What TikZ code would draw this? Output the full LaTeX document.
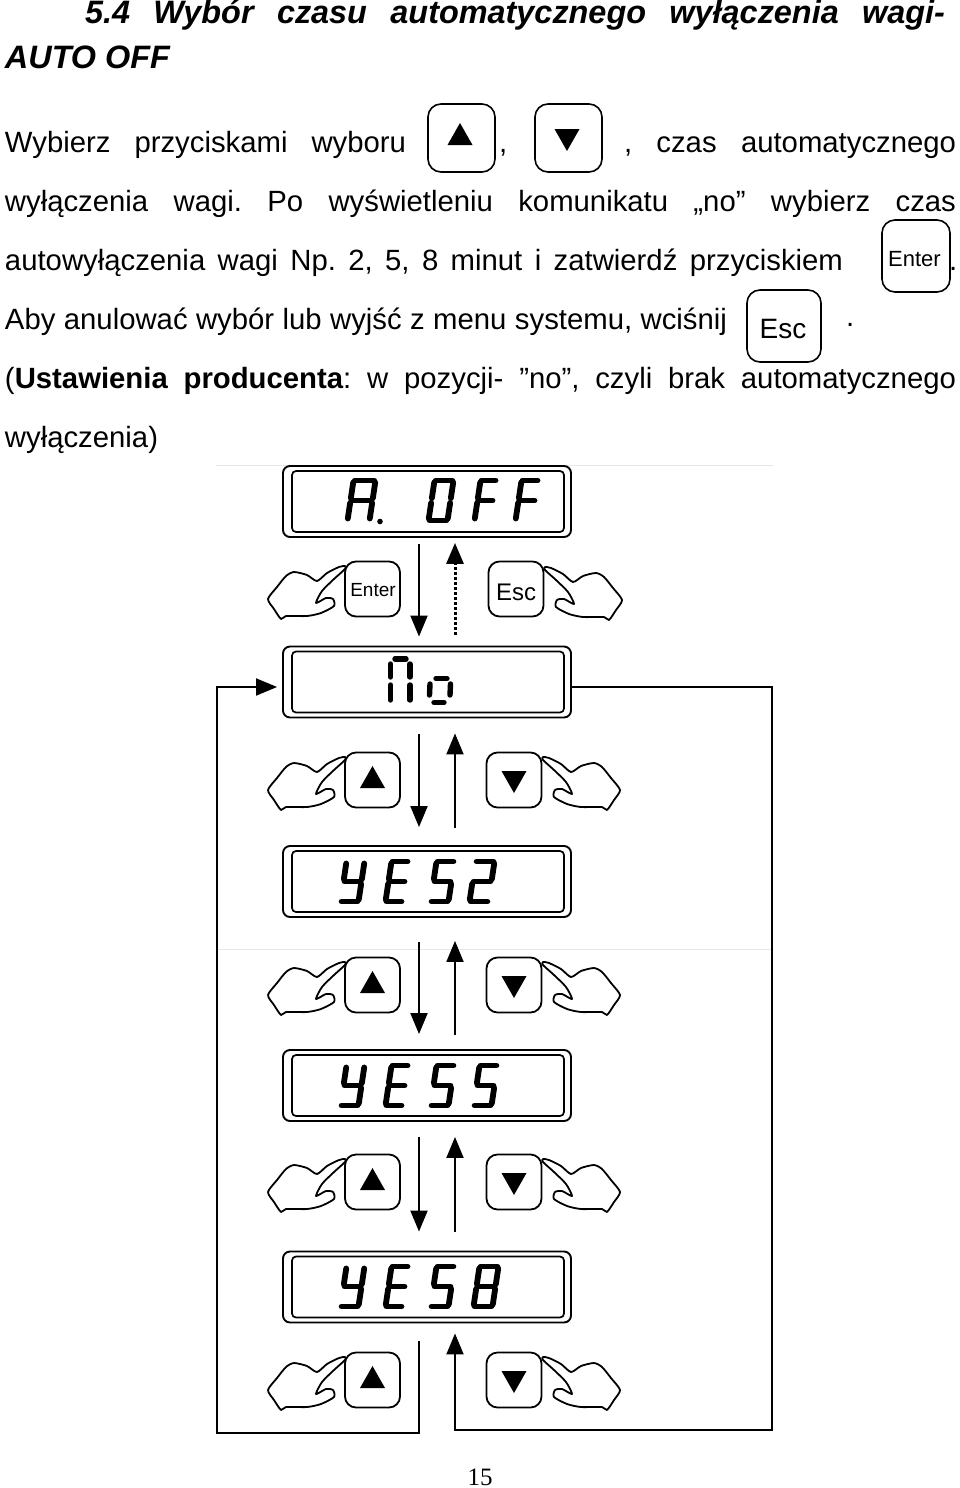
\documentclass[tikz,border=0pt]{standalone}
\usepackage{fontspec}
\setmainfont{Liberation Sans}
\newfontfamily\serifnum{Liberation Serif}
\usetikzlibrary{arrows.meta,calc}
\newcommand\segpa{\draw[segm] (.06,1)--(.94,1);}
\newcommand\segpb{\draw[segm] (1,.95)--(1,.56);}
\newcommand\segpc{\draw[segm] (1,.44)--(1,.05);}
\newcommand\segpd{\draw[segm] (.94,0)--(.06,0);}
\newcommand\segpe{\draw[segm] (0,.44)--(0,.05);}
\newcommand\segpf{\draw[segm] (0,.95)--(0,.56);}
\newcommand\segpg{\draw[segm] (.06,.5)--(.94,.5);}
% x, baseline y, width, height, slant, segments
\newcommand\glyph[6]{\begin{scope}[shift={(#1,#2)},x={(#3pt,0pt)},y={(#5pt,#4pt)}]
\foreach \q in {#6}{\csname segp\q\endcsname}\end{scope}}
\newcommand\displaybox[2]{%
\node[dispouter] (#1) at (427,#2+35.5) {};
\node[dispinner] (#1i) at (428,#2+35.5) {};}
\newcommand\hand[3]{\begin{scope}[shift={(#1,#2)},xscale=#3]
\draw[handline] plot[smooth cycle,tension=.42] coordinates {(0,-1) (-6,0) (-18,6) (-28,14) (-38,8) (-51,5) (-59,9) (-68,20) (-77,32) (-71,42) (-64,52) (-59,49) (-38,49) (-24,46) (-11,39) (-12,32) (-19,31) (-29,36) (-23,24) (-11,12) (0,2)};
\end{scope}}
\newcommand\uptri[3]{\fill (#1.center) ++(#2,#3) ++(0,-11) -- ++(12.5,22) -- ++(-25,0) -- cycle;}
\newcommand\dntri[3]{\fill (#1.center) ++(#2,#3) ++(0,11) -- ++(12.5,-22) -- ++(-25,0) -- cycle;}
\tikzset{
 segm/.style={line width=5.8pt,line cap=round},
 segthin/.style={line width=5.4pt,line cap=round},
 handline/.style={line width=1.8pt,line join=round},
 dispouter/.style={draw,line width=1.9pt,rounded corners=7pt,minimum width=288pt,minimum height=71pt,inner sep=0pt},
 dispinner/.style={draw,line width=1.7pt,rounded corners=4pt,minimum width=272pt,minimum height=61pt,inner sep=0pt},
 keybtn/.style={draw,line width=1.8pt,rounded corners=11pt,minimum width=55pt,minimum height=55pt,inner sep=0pt,fill=white},
 bigbtn/.style={draw,line width=1.6pt,rounded corners=13pt,inner sep=0pt},
 line/.style={anchor=base west,inner sep=0pt,outer sep=0pt},
 conn/.style={line width=2pt},
 tipd/.style={-{Triangle[length=21pt,width=17pt]}},
 faint/.style={line width=.8pt,black!9},
}
\newcommand\bodyfont{\fontsize{29.3}{34}\selectfont\frenchspacing}
\newcommand\headfont{\fontsize{32.4}{38}\selectfont\frenchspacing\bfseries\itshape}
\begin{document}
\begin{tikzpicture}[x=1pt,y=-1pt]
\useasboundingbox (0,0) rectangle (960,1488);
\fill[white] (0,0) rectangle (960,1488);
% text
\node[line] (t1) at (85,24) {\headfont\makebox[860pt][s]{5.4 Wybór czasu automatycznego wyłączenia wagi-}};
\node[line] (t2) at (5,69) {\headfont AUTO OFF};
\node[line] (t3a) at (5,152) {\bodyfont\makebox[401pt][s]{Wybierz przyciskami wyboru}};
\node[line] (t3b) at (499,152) {\bodyfont ,};
\node[line] (t3c) at (624,152) {\bodyfont\makebox[332pt][s]{, czas automatycznego}};
\node[line] (t4) at (5,211) {\bodyfont\makebox[951pt][s]{wyłączenia wagi. Po wyświetleniu komunikatu „no” wybierz czas}};
\node[line] (t5a) at (5,270) {\bodyfont\makebox[838pt][s]{autowyłączenia wagi Np. 2, 5, 8 minut i zatwierdź przyciskiem}};
\node[line] (t5b) at (949,270) {\bodyfont .};
\node[line] (t6a) at (5,329) {\bodyfont\makebox[722pt][s]{Aby anulować wybór lub wyjść z menu systemu, wciśnij}};
\node[line] (t6b) at (846,326) {\bodyfont .};
\node[line] (t7) at (5,388) {\bodyfont\makebox[951pt][s]{({\bfseries Ustawienia producenta}: w pozycji- ”no”, czyli brak automatycznego}};
\node[line] (t8) at (5,447) {\bodyfont wyłączenia)};
\node[anchor=base,inner sep=0pt] (pg) at (480,1485) {\fontsize{25}{29}\selectfont\serifnum 15};
% inline buttons
\node[bigbtn,minimum width=67pt,minimum height=68pt] (bu) at (461.5,138) {};
\node[bigbtn,minimum width=67pt,minimum height=68pt] (bd) at (568.5,138) {};
\uptri{bu}{-1.5}{-4}
\dntri{bd}{-1.5}{2}
\node[bigbtn,minimum width=68pt,minimum height=72pt] (ben) at (916,256) {};
\node[anchor=base,inner sep=0pt] (benl) at (914.5,266) {\fontsize{22}{26}\selectfont Enter};
\node[bigbtn,minimum width=74pt,minimum height=72pt] (bes) at (784,326) {};
\node[anchor=base,inner sep=0pt] (besl) at (783,338) {\fontsize{28}{32}\selectfont Esc};
% faint scan artefacts
\draw[faint] (216,465) -- (773,465);
\draw[faint] (218,949) -- (773,949);
% displays
\displaybox{dA}{466}
\displaybox{dN}{646.5}
\displaybox{d2}{846}
\displaybox{d5}{1050}
\displaybox{d8}{1251.5}
% A. OFF
\glyph{347.5}{520.5}{22}{40}{6}{a,b,c,e,f,g}
\fill (380,521.5) circle (2.8pt);
\glyph{428.5}{520.5}{19}{40}{6}{a,b,c,d,e,f}
\glyph{474.5}{520.5}{16}{40}{6}{a,e,f,g}
\glyph{515.5}{520.5}{17}{40}{6}{a,e,f,g}
% No
\draw[segthin] (395,659) -- (406,659);
\draw[segthin] (390.5,664) -- (390.5,677);
\draw[segthin] (390.5,685) -- (390.5,700);
\draw[segthin] (410,664) -- (410,677);
\draw[segthin] (410,685) -- (410,700);
\draw[segthin] (436,678.5) -- (447,678.5);
\draw[segthin] (430,684) -- (429.5,695);
\draw[segthin] (450.5,684) -- (450,695);
\draw[segthin] (434,702.5) -- (444,702.5);
% YES2
\glyph{340.5}{901.5}{18}{40}{6}{b,c,d,f,g}
\glyph{385.5}{901.5}{17}{40}{6}{a,d,e,f,g}
\glyph{430.5}{901.5}{18}{40}{6}{a,c,d,f,g}
\glyph{469.5}{901.5}{19}{40}{6}{a,b,d,e,g}
% YES5
\glyph{340.5}{1105.5}{18}{40}{6}{b,c,d,f,g}
\glyph{385.5}{1105.5}{17}{40}{6}{a,d,e,f,g}
\glyph{430.5}{1105.5}{18}{40}{6}{a,c,d,f,g}
\glyph{473.5}{1105.5}{18}{40}{6}{a,c,d,f,g}
% YES8
\glyph{340.5}{1306.5}{18}{40}{6}{b,c,d,f,g}
\glyph{385.5}{1306.5}{17}{40}{6}{a,d,e,f,g}
\glyph{430.5}{1306.5}{18}{40}{6}{a,c,d,f,g}
\glyph{473.5}{1306.5}{19}{40}{6}{a,b,c,d,e,f,g}
% hands and keys
\hand{345}{567}{1}
\hand{545}{568}{-1}
\node[keybtn] (kEn) at (372.5,589) {};
\node[anchor=base,inner sep=0pt] (kEnl) at (373,596) {\fontsize{19}{24}\selectfont Enter};
\node[keybtn] (kEs) at (516,589) {};
\node[anchor=base,inner sep=0pt] (kEsl) at (516,600) {\fontsize{24}{28}\selectfont Esc};
\foreach \n/\yy in {1/780,2/985,3/1182,4/1380}{
 \hand{345}{\yy-22}{1}
 \hand{543}{\yy-22}{-1}
 \node[keybtn] (ku\n) at (372.5,\yy) {};
 \node[keybtn] (kd\n) at (514,\yy) {};
 \uptri{ku\n}{0}{-3}
 \dntri{kd\n}{0}{2}
}
% connectors
\coordinate (xd) at (419,0);
\coordinate (xu) at (455,0);
\coordinate (bl) at (217,1433);
\coordinate (tl) at (217,687);
\coordinate (br) at (772,1430);
\draw[conn,tipd] ($(dA.south -| xd)+(0,6)$) -- ($(dN.north -| xd)+(0,-9)$);
\draw[line width=3pt,dash pattern=on 2.5pt off 2.5pt,tipd] ($(dN.north -| xu)+(0,-11)$) -- ($(dA.south -| xu)+(0,5)$);
\draw[conn,tipd] ($(dN.south -| xd)+(0,16)$) -- ($(d2.north -| xd)+(0,-18)$);
\draw[conn,tipd] ($(d2.north -| xu)+(0,-17)$) -- ($(dN.south -| xu)+(0,15)$);
\draw[conn,tipd] ($(d2.south -| xd)+(0,24)$) -- ($(d5.north -| xd)+(0,-15)$);
\draw[conn,tipd] ($(d5.north -| xu)+(0,-14)$) -- ($(d2.south -| xu)+(0,23)$);
\draw[conn,tipd] ($(d5.south -| xd)+(0,15)$) -- ($(d8.north -| xd)+(0,-19)$);
\draw[conn,tipd] ($(d8.north -| xu)+(0,-19)$) -- ($(d5.south -| xu)+(0,15)$);
\draw[conn,tipd] ($(d8.south -| xd)+(0,18)$) |- (bl) -- (tl) -- ($(dN.west)+(-5,5)$);
\draw[conn,tipd] ($(dN.east)+(0,5)$) -| (br) -| ($(d8.south -| xu)+(0,10)$);
\end{tikzpicture}
\end{document}
